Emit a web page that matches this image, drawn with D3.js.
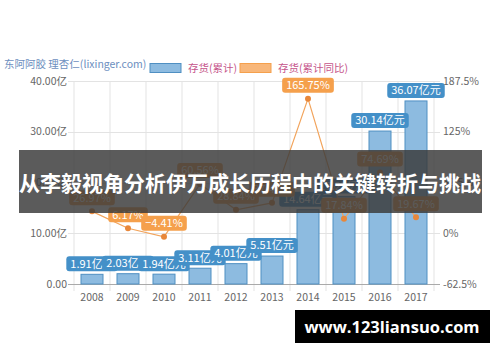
<!DOCTYPE html>
<html>
<head>
<meta charset="utf-8">
<script src="https://cdn.jsdelivr.net/npm/d3@7"></script>
<style>
  body { margin: 0; background: #fff; }
  svg { display: block; font-family: "Noto Sans CJK SC", "Noto Sans", sans-serif; }
</style>
</head>
<body>
<svg id="chart" width="500" height="362"></svg>
<script>
// data
var years = ["2008", "2009", "2010", "2011", "2012", "2013", "2014", "2015", "2016", "2017"];
var inventory = [1.91, 2.03, 1.94, 3.11, 4.01, 5.51, 14.64, 17.25, 30.14, 36.07];
var inventoryYoy = [26.97, 6.17, -4.41, 60.56, 28.84, 37.41, 165.75, 17.84, 74.69, 19.67];
var leftTicks = [0, 10, 20, 30, 40];
var rightTicks = [-62.5, 0, 62.5, 125, 187.5];

var svg = d3.select("#chart");
var margin = {top: 81, left: 74, right: 66, bottom: 78};
var width = 500 - margin.left - margin.right,
    height = 362 - margin.top - margin.bottom;

var g = svg.append("g")
    .attr("transform", "translate(" + margin.left + "," + margin.top + ")");

var x = d3.scaleBand().domain(years).range([0, width]);
var yL = d3.scaleLinear().domain([0, 40]).range([height, 0]);
var yR = d3.scaleLinear().domain([-62.5, 187.5]).range([height, 0]);

// grid
g.selectAll("line.vgrid")
  .data(d3.range(years.length + 1))
  .enter().append("line")
    .attr("x1", i => i * x.step()).attr("x2", i => i * x.step())
    .attr("y1", 0).attr("y2", height + 7)
    .attr("stroke", "#e3e3e3");
g.selectAll("line.hgrid")
  .data(leftTicks)
  .enter().append("line")
    .attr("x1", -6).attr("x2", width + 6)
    .attr("y1", d => Math.round(yL(d)) + 0.5).attr("y2", d => Math.round(yL(d)) + 0.5)
    .attr("stroke", d => d == 0 ? "#aaa" : "#e3e3e3");

// left axis labels
g.selectAll("text.yl")
  .data(leftTicks)
  .enter().append("text")
    .attr("x", -7).attr("y", d => yL(d))
    .attr("dy", "0.35em")
    .attr("text-anchor", "end")
    .attr("font-size", 10.5).attr("fill", "#666")
    .text(d => d == 0 ? "0.00" : d3.format(".2f")(d) + "亿");

// right axis labels
g.selectAll("text.yr")
  .data(rightTicks)
  .enter().append("text")
    .attr("x", width + 9).attr("y", d => yR(d))
    .attr("dy", "0.35em")
    .attr("font-size", 10.5).attr("fill", "#666")
    .text(d => d + "%");

// x labels
g.selectAll("text.xl")
  .data(years)
  .enter().append("text")
    .attr("x", d => x(d) + x.bandwidth() / 2).attr("y", height + 13)
    .attr("dy", "0.35em")
    .attr("text-anchor", "middle")
    .attr("font-size", 10.5).attr("fill", "#666")
    .text(d => d);

// bars
var barW = 22;
g.selectAll("rect.bar")
  .data(inventory)
  .enter().append("rect")
    .attr("x", (d, i) => x(years[i]) + (x.bandwidth() - barW) / 2)
    .attr("y", d => yL(d))
    .attr("width", barW)
    .attr("height", d => height - yL(d))
    .attr("fill", "#8dbbe0")
    .attr("stroke", "#4f8fc2");

// rounded label box with white text, bottom edge at `bottom`
function label(parent, cx, bottom, txt, color) {
  var t = parent.append("text")
    .attr("x", cx).attr("y", bottom - 7.5)
    .attr("dy", "0.35em")
    .attr("text-anchor", "middle")
    .attr("font-size", 11).attr("fill", "#fff")
    .text(txt);
  var w = t.node().getComputedTextLength() + 8;
  parent.insert("rect", function() { return t.node(); })
    .attr("x", cx - w / 2).attr("y", bottom - 15)
    .attr("width", w).attr("height", 15)
    .attr("rx", 3)
    .attr("fill", color);
}

var barLabels = g.append("g");
inventory.forEach(function(d, i) {
  var lg = barLabels.append("g");
  label(lg, x(years[i]) + x.bandwidth() / 2, yL(d) - 3, d3.format(".2f")(d) + "亿元", "#4490c8");
});

// yoy line
var line = d3.line()
    .x((d, i) => x(years[i]) + x.bandwidth() / 2)
    .y(d => yR(d));
g.append("path")
  .datum(inventoryYoy)
  .attr("d", line)
  .attr("fill", "none")
  .attr("stroke", "#f2a45c")
  .attr("stroke-width", 1.2);
g.selectAll("circle.pt")
  .data(inventoryYoy)
  .enter().append("circle")
    .attr("cx", (d, i) => x(years[i]) + x.bandwidth() / 2)
    .attr("cy", d => yR(d))
    .attr("r", 3)
    .attr("fill", "#e8873a");

var lineLabels = g.append("g");
inventoryYoy.forEach(function(d, i) {
  var lg = lineLabels.append("g");
  label(lg, x(years[i]) + x.bandwidth() / 2, yR(d) - 6, d3.format(".2f")(d) + "%", "#f5a04c");
});

// title and legend
svg.append("text")
  .attr("x", 4).attr("y", 64).attr("dy", "0.35em")
  .attr("font-size", 10.5).attr("fill", "#6d8fc0")
  .text("东阿阿胶 理杏仁(lixinger.com)");

var legend = [
  {name: "存货(累计)", fill: "#8dbbe0", stroke: "#4f8fc2", x: 150},
  {name: "存货(累计同比)", fill: "#f8b77a", stroke: "#f5a04c", x: 240}
];
legend.forEach(function(l) {
  svg.append("rect")
    .attr("x", l.x).attr("y", 63.5).attr("width", 31).attr("height", 9)
    .attr("fill", l.fill).attr("stroke", l.stroke);
  svg.append("text")
    .attr("x", l.x + 38).attr("y", 68).attr("dy", "0.35em")
    .attr("font-size", 10.5).attr("fill", "#c5548a")
    .text(l.name);
});

// banner overlay
svg.append("rect")
  .attr("x", 19).attr("y", 150).attr("width", 463).attr("height", 63)
  .attr("fill", "rgba(58,58,58,0.83)");
svg.append("text")
  .attr("x", 250).attr("y", 184).attr("dy", "0.35em")
  .attr("text-anchor", "middle")
  .attr("font-size", 21).attr("font-weight", "bold").attr("fill", "#fff")
  .text("从李毅视角分析伊万成长历程中的关键转折与挑战");

// watermark
svg.append("rect")
  .attr("x", 295).attr("y", 310).attr("width", 195).attr("height", 33)
  .attr("fill", "#000");
svg.append("text")
  .attr("x", 392).attr("y", 327).attr("dy", "0.35em")
  .attr("text-anchor", "middle")
  .attr("font-family", "'Open Sans', sans-serif")
  .attr("font-size", 16.5).attr("font-weight", "bold").attr("fill", "#fff")
  .text("www.123liansuo.com");
</script>
</body>
</html>
